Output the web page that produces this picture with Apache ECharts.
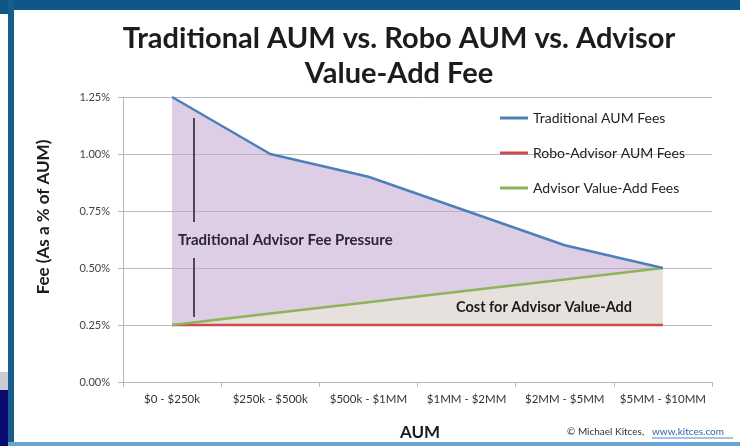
<!DOCTYPE html>
<html>
<head>
<meta charset="utf-8">
<script src="https://cdn.jsdelivr.net/npm/echarts@6/dist/echarts.min.js"></script>
<style>html,body{margin:0;padding:0;background:#fff;}#c{width:740px;height:446px;}</style>
</head>
<body>
<div id="c"></div>
<script>
var categories = ['$0 - $250k', '$250k - $500k', '$500k - $1MM', '$1MM - $2MM', '$2MM - $5MM', '$5MM - $10MM'];
var traditional = [1.25, 1.00, 0.90, 0.75, 0.60, 0.50];
var robo = [0.25, 0.25, 0.25, 0.25, 0.25, 0.25];
var valueAdd = [0.25, 0.30, 0.35, 0.40, 0.45, 0.50];
var yTicks = [0, 0.25, 0.5, 0.75, 1.0, 1.25];

var FONT = 'Lato';
// stacked helpers for the shaded bands, built from the arrays above
var bandBase = robo.slice();
var bandValueAdd = valueAdd.map(function (v, i) { return +(v - robo[i]).toFixed(4); });
var bandPressure = traditional.map(function (v, i) { return +(v - valueAdd[i]).toFixed(4); });

var chart = echarts.init(document.getElementById('c'));
chart.setOption({
  animation: false,
  backgroundColor: '#ffffff',
  textStyle: { fontFamily: FONT },
  grid: { left: 123, right: 28, top: 97, bottom: 64 },
  legend: {
    orient: 'vertical', left: 495, top: 106,
    itemWidth: 28, itemHeight: 3, itemGap: 21, icon: 'rect',
    textStyle: { fontFamily: FONT, fontSize: 14, color: '#222' },
    data: ['Traditional AUM Fees', 'Robo-Advisor AUM Fees', 'Advisor Value-Add Fees']
  },
  xAxis: {
    type: 'category', data: categories, boundaryGap: true,
    axisLine: { lineStyle: { color: '#b8b8b8', width: 1 } },
    axisTick: { show: true, length: 5, lineStyle: { color: '#b8b8b8' } },
    axisLabel: { interval: 0, fontFamily: FONT, fontSize: 11.5, color: '#333', margin: 11 }
  },
  yAxis: {
    type: 'value', min: 0, max: 1.25, interval: 0.25,
    axisLine: { show: true, lineStyle: { color: '#b8b8b8', width: 1 } },
    axisTick: { show: true, length: 5, lineStyle: { color: '#b8b8b8' } },
    splitLine: { lineStyle: { color: '#bcbcbc', width: 1 } },
    axisLabel: { fontFamily: FONT, fontSize: 11, color: '#444', margin: 13,
      formatter: function (v) { return v.toFixed(2) + '%'; } }
  },
  series: [
    { name: 'base', type: 'line', stack: 'band', data: bandBase, symbol: 'none',
      lineStyle: { opacity: 0 }, silent: true, z: 1 },
    { name: 'va-band', type: 'line', stack: 'band', data: bandValueAdd, symbol: 'none',
      lineStyle: { opacity: 0 }, areaStyle: { color: 'rgb(215,205,200)', opacity: 0.6 }, silent: true, z: 1 },
    { name: 'pressure-band', type: 'line', stack: 'band', data: bandPressure, symbol: 'none',
      lineStyle: { opacity: 0 }, areaStyle: { color: 'rgb(190,160,206)', opacity: 0.52 }, silent: true, z: 1 },
    { name: 'Robo-Advisor AUM Fees', type: 'line', data: robo, symbol: 'none',
      lineStyle: { color: '#cf4a4a', width: 2.5 }, itemStyle: { color: '#cf4a4a' }, z: 3 },
    { name: 'Advisor Value-Add Fees', type: 'line', data: valueAdd, symbol: 'none',
      lineStyle: { color: '#8fb35a', width: 2.5 }, itemStyle: { color: '#8fb35a' }, z: 4 },
    { name: 'Traditional AUM Fees', type: 'line', data: traditional, symbol: 'none',
      lineStyle: { color: '#4d7fb8', width: 2.5 }, itemStyle: { color: '#4d7fb8' }, z: 5 }
  ],
  graphic: [
    // slide frame
    { type: 'rect', shape: { x: 0, y: 0, width: 740, height: 10 }, style: { fill: '#0f5689' }, z: 100 },
    { type: 'rect', shape: { x: 0, y: 0, width: 14, height: 14 }, style: { fill: '#0f5689' }, z: 100 },
    { type: 'rect', shape: { x: 8, y: 0, width: 6, height: 446 }, style: { fill: '#175d8e' }, z: 100 },
    { type: 'rect', shape: { x: 0, y: 372, width: 8, height: 18 }, style: { fill: '#c9ccd6' }, z: 100 },
    { type: 'rect', shape: { x: 0, y: 390, width: 8, height: 56 }, style: { fill: '#0a0a70' }, z: 100 },
    { type: 'rect', shape: { x: 8, y: 442, width: 732, height: 4 }, style: { fill: '#6aa3cf' }, z: 100 },
    // title
    { type: 'text', x: 399, y: 21, z: 50,
      style: { text: 'Traditional AUM vs. Robo AUM vs. Advisor\nValue-Add Fee', fontFamily: FONT, fontWeight: 'bold',
        fontSize: 29, lineHeight: 35, fill: '#1c1c1c', textAlign: 'center', textVerticalAlign: 'top' } },
    // y axis name
    { type: 'text', x: 44, y: 217, rotation: Math.PI / 2, z: 50,
      style: { text: 'Fee (As a % of AUM)', fontFamily: FONT, fontWeight: 'bold', fontSize: 17,
        fill: '#1c1c1c', textAlign: 'center', textVerticalAlign: 'middle' } },
    // x axis name
    { type: 'text', x: 420, y: 433, z: 50,
      style: { text: 'AUM', fontFamily: FONT, fontWeight: 'bold', fontSize: 17,
        fill: '#1c1c1c', textAlign: 'center', textVerticalAlign: 'middle' } },
    // credit
    { type: 'text', x: 567, y: 432, z: 50,
      style: { text: '© Michael Kitces, ', fontFamily: FONT, fontSize: 10, fill: '#333',
        textAlign: 'left', textVerticalAlign: 'middle' } },
    { type: 'text', x: 652, y: 432, z: 50,
      style: { text: 'www.kitces.com', fontFamily: FONT, fontSize: 10, fill: '#2e64b5',
        textAlign: 'left', textVerticalAlign: 'middle' } },
    { type: 'line', shape: { x1: 652, y1: 438, x2: 733, y2: 438 }, style: { stroke: '#2e64b5', lineWidth: 0.8 }, z: 50 },
    // annotations
    { type: 'line', shape: { x1: 194, y1: 118, x2: 194, y2: 222 }, style: { stroke: '#1e1a2e', lineWidth: 1.5 }, z: 50 },
    { type: 'line', shape: { x1: 194, y1: 258, x2: 194, y2: 317 }, style: { stroke: '#1e1a2e', lineWidth: 1.5 }, z: 50 },
    { type: 'text', x: 178, y: 240, z: 50,
      style: { text: 'Traditional Advisor Fee Pressure', fontFamily: FONT, fontWeight: 'bold', fontSize: 15,
        fill: '#2b2535', textAlign: 'left', textVerticalAlign: 'middle' } },
    { type: 'text', x: 456, y: 307, z: 50,
      style: { text: 'Cost for Advisor Value-Add', fontFamily: FONT, fontWeight: 'bold', fontSize: 14.5,
        fill: '#1c1c1c', textAlign: 'left', textVerticalAlign: 'middle' } }
  ]
});
</script>
</body>
</html>
